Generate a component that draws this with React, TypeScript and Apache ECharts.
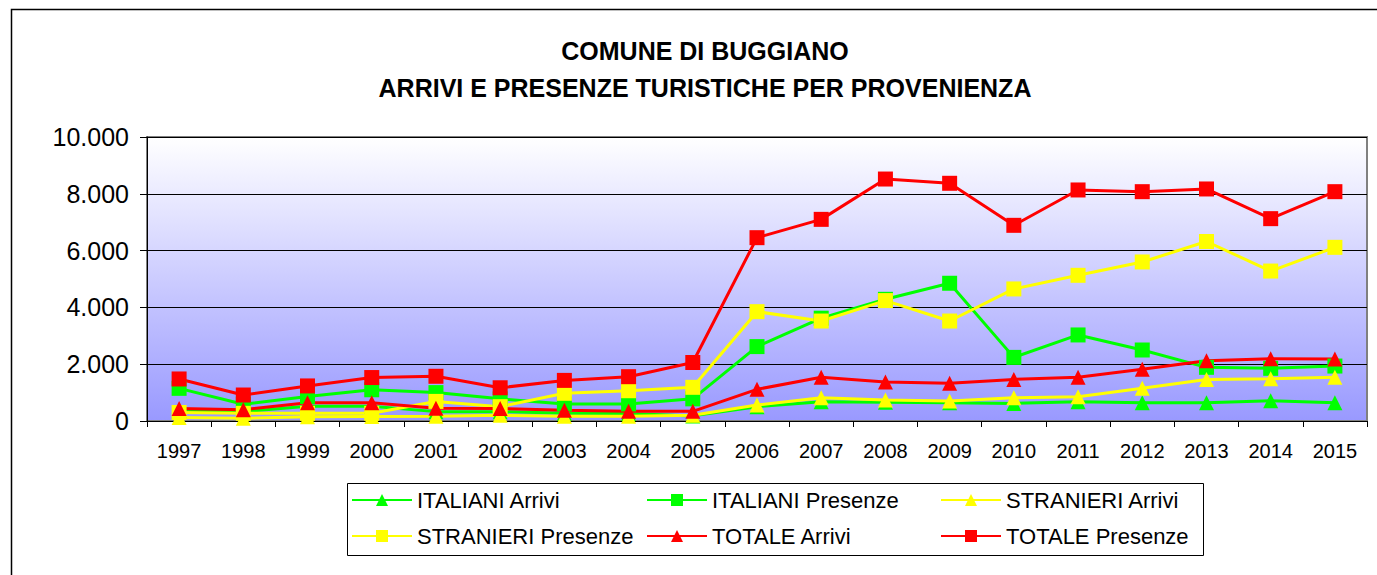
import React, { useEffect, useRef } from "react";
import * as echarts from "echarts";

const years = ["1997","1998","1999","2000","2001","2002","2003","2004","2005","2006","2007","2008","2009","2010","2011","2012","2013","2014","2015"];
const italianiArrivi = [360, 330, 520, 520, 330, 330, 270, 260, 180, 505, 680, 660, 645, 620, 680, 645, 645, 715, 645];
const italianiPresenze = [1150, 590, 860, 1100, 1000, 780, 600, 600, 780, 2620, 3620, 4285, 4850, 2240, 3030, 2500, 1890, 1855, 1935];
const stranieriArrivi = [120, 100, 150, 160, 170, 200, 170, 170, 200, 560, 820, 740, 705, 820, 855, 1150, 1465, 1490, 1540];
const stranieriPresenze = [300, 270, 270, 270, 690, 505, 975, 1066, 1186, 3850, 3520, 4240, 3520, 4650, 5130, 5600, 6320, 5280, 6115];
const totaleArrivi = [440, 400, 640, 640, 450, 440, 380, 340, 340, 1115, 1540, 1375, 1325, 1465, 1540, 1820, 2125, 2195, 2185];
const totalePresenze = [1480, 915, 1235, 1530, 1575, 1170, 1430, 1560, 2060, 6455, 7100, 8520, 8370, 6890, 8135, 8075, 8170, 7125, 8075];

const titleLines = ["COMUNE DI BUGGIANO", "ARRIVI E PRESENZE TURISTICHE PER PROVENIENZA"];

const FONT = "'Liberation Sans', Arial, sans-serif";

const seriesDefs = [
  { name: "ITALIANI Arrivi", data: italianiArrivi, color: "#00FF00", symbol: "triangle" },
  { name: "ITALIANI Presenze", data: italianiPresenze, color: "#00FF00", symbol: "rect" },
  { name: "STRANIERI Arrivi", data: stranieriArrivi, color: "#FFFF00", symbol: "triangle" },
  { name: "STRANIERI Presenze", data: stranieriPresenze, color: "#FFFF00", symbol: "rect" },
  { name: "TOTALE Arrivi", data: totaleArrivi, color: "#FF0000", symbol: "triangle" },
  { name: "TOTALE Presenze", data: totalePresenze, color: "#FF0000", symbol: "rect" },
];

const legendPos = [
  { left: 351, top: 489 },
  { left: 646, top: 489 },
  { left: 940, top: 489 },
  { left: 351, top: 525 },
  { left: 646, top: 525 },
  { left: 940, top: 525 },
];

function fmt(v: number) {
  if (v === 0) return "0";
  return String(v).replace(/\B(?=(\d{3})+(?!\d))/g, ".");
}

export default function App() {
  const ref = useRef<HTMLDivElement>(null);
  useEffect(() => {
    if (!ref.current) return;
    const chart = echarts.init(ref.current, null, { renderer: "svg" });
    chart.setOption({
      animation: false,
      backgroundColor: "#ffffff",
      textStyle: { fontFamily: FONT },
      title: {
        text: titleLines.join("\n"),
        left: 700,
        textAlign: "center",
        top: 27,
        textStyle: { fontFamily: FONT, fontWeight: "bold", fontSize: 25, lineHeight: 37, color: "#000" },
      },
      graphic: [
        { type: "rect", shape: { x: 11.5, y: 9.5, width: 1420, height: 620 }, style: { fill: "none", stroke: "#000", lineWidth: 1.5 }, z: -1 },
        { type: "rect", shape: { x: 347.5, y: 483.5, width: 856, height: 72 }, style: { fill: "#fff", stroke: "#000", lineWidth: 1 }, z: -1 },
      ],
      legend: seriesDefs.map((s, i) => ({
        data: [s.name],
        left: legendPos[i].left,
        top: legendPos[i].top,
        padding: 0,
        itemWidth: 60,
        itemHeight: 15,
        itemGap: 5,
        selectedMode: false,
        textStyle: { fontFamily: FONT, fontSize: 22, color: "#000" },
      })),
      grid: {
        left: 147,
        right: 10,
        top: 137,
        bottom: 154,
        show: true,
        borderColor: "#808080",
        borderWidth: 2,
        backgroundColor: new echarts.graphic.LinearGradient(0, 0, 0, 1, [
          { offset: 0, color: "#FFFFFF" },
          { offset: 1, color: "#9999FF" },
        ]),
      },
      xAxis: {
        type: "category",
        data: years,
        boundaryGap: true,
        axisLine: { show: true, lineStyle: { color: "#000", width: 1 } },
        axisTick: { show: true, length: 6, lineStyle: { color: "#000" } },
        axisLabel: { fontFamily: FONT, fontSize: 20, color: "#000", margin: 20 },
        splitLine: { show: false },
      },
      yAxis: {
        type: "value",
        min: 0,
        max: 10000,
        interval: 2000,
        axisLine: { show: true, lineStyle: { color: "#000", width: 1 } },
        axisTick: { show: true, length: 7, lineStyle: { color: "#000" } },
        axisLabel: { fontFamily: FONT, fontSize: 25, color: "#000", margin: 18, formatter: fmt },
        splitLine: { show: true, lineStyle: { color: "#000", width: 1 } },
      },
      series: seriesDefs.map((s) => ({
        name: s.name,
        type: "line",
        data: s.data,
        symbol: s.symbol,
        symbolSize: 15,
        showAllSymbol: true,
        lineStyle: { color: s.color, width: 3 },
        itemStyle: { color: s.color },
      })),
    });
    return () => chart.dispose();
  }, []);
  return <div ref={ref} style={{ position: "absolute", left: 0, top: 0, width: 1377, height: 575 }} />;
}
